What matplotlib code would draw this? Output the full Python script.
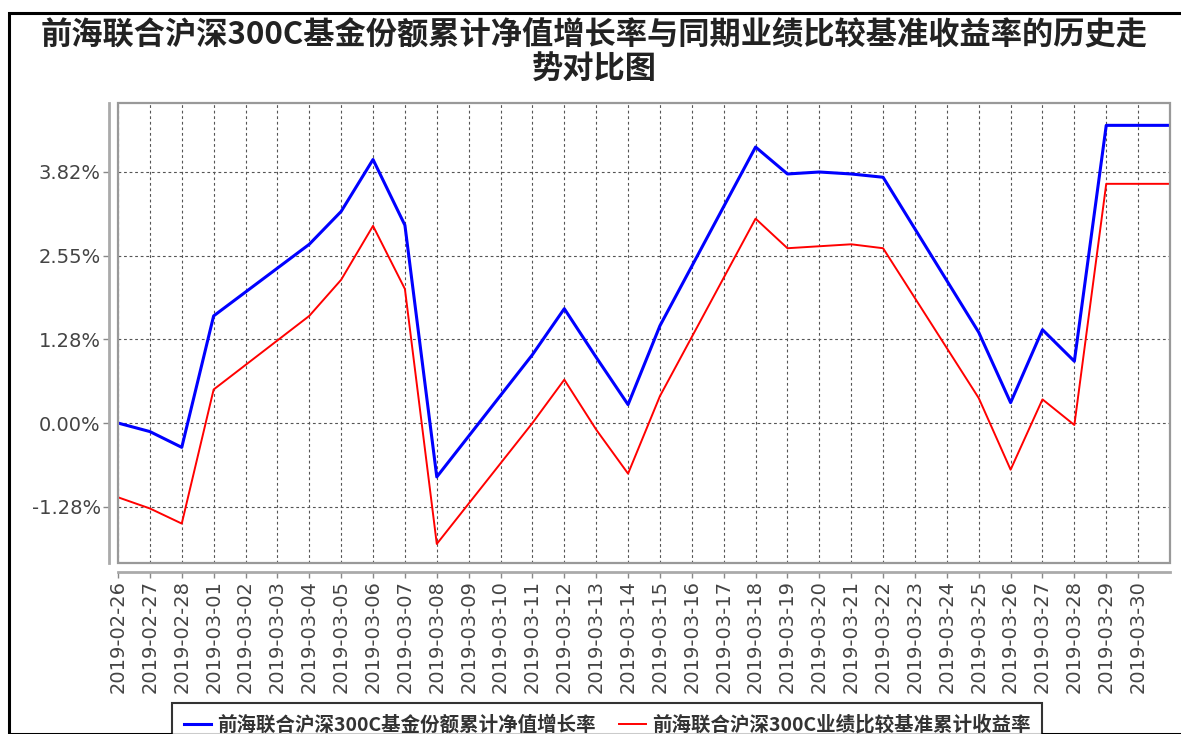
import matplotlib
matplotlib.use("Agg")
import matplotlib.pyplot as plt
from matplotlib.patches import Rectangle
import pandas as pd

# trading days (flat tail runs to month end)
dates = ['2019-02-26', '2019-02-27', '2019-02-28', '2019-03-01', '2019-03-04',
         '2019-03-05', '2019-03-06', '2019-03-07', '2019-03-08', '2019-03-11',
         '2019-03-12', '2019-03-13', '2019-03-14', '2019-03-15', '2019-03-18',
         '2019-03-19', '2019-03-20', '2019-03-21', '2019-03-22', '2019-03-25',
         '2019-03-26', '2019-03-27', '2019-03-28', '2019-03-29', '2019-03-31']

# fund cumulative NAV growth (%)
fund = [0.00, -0.13, -0.37, 1.63, 2.72, 3.22, 4.01, 3.01, -0.82, 1.04,
        1.74, 1.00, 0.28, 1.48, 4.20, 3.79, 3.82, 3.79, 3.74, 1.38,
        0.31, 1.42, 0.94, 4.53, 4.53]

# benchmark cumulative return (%)
bench = [-1.13, -1.30, -1.53, 0.51, 1.63, 2.18, 3.00, 2.04, -1.84, 0.00,
         0.66, -0.10, -0.77, 0.41, 3.11, 2.66, 2.69, 2.72, 2.66, 0.38,
         -0.71, 0.36, -0.03, 3.64, 3.64]

ytick_vals = [-1.2733, 0.0, 1.2733, 2.5467, 3.82]
ytick_labels = ['-1.28%', '0.00%', '1.28%', '2.55%', '3.82%']

title = '前海联合沪深300C基金份额累计净值增长率与同期业绩比较基准收益率的历史走\n势对比图'
fund_name = '前海联合沪深300C基金份额累计净值增长率'
bench_name = '前海联合沪深300C业绩比较基准累计收益率'

cjk = ['Noto Sans CJK SC', 'DejaVu Sans']

W, H = 1181, 734
fig = plt.figure(figsize=(W / 100, H / 100), dpi=100)
fig.patch.set_facecolor('white')

# black frame around the whole chart (runs off right and bottom)
fig.patches.append(Rectangle((9 / W, 0), 1.0, 1 - 13 / H, transform=fig.transFigure,
                             fill=False, ec='black', lw=2.2, figure=fig))

fig.text(0.503, 1 - 53 / H, title, ha='center', va='center', fontsize=22.5,
         family=cjk, fontweight='bold', color='#222222', linespacing=1.1)

ax = fig.add_axes([118 / W, 1 - 563 / H, (1170 - 118) / W, (563 - 103) / H])

# plot box plus offset axis lines (set first: set_position resets ticks)
for s in ['top', 'right']:
    ax.spines[s].set_visible(False)
for s in ['left', 'bottom']:
    ax.spines[s].set_position(('outward', 6.5))
    ax.spines[s].set_color('#aaaaaa')
    ax.spines[s].set_linewidth(2)
ax.add_patch(Rectangle((0, 0), 1, 1, transform=ax.transAxes, fill=False,
                       ec='#999999', lw=1.6, clip_on=False, zorder=3))

x = pd.to_datetime(dates)
l1, = ax.plot(x, fund, color='#0000ff', lw=2.2, label=fund_name)
l2, = ax.plot(x, bench, color='#ff0000', lw=1.4, label=bench_name)

ax.set_xlim(pd.Timestamp('2019-02-26'), pd.Timestamp('2019-03-31'))
ax.set_ylim(-2.13, 4.87)

ticks = pd.date_range('2019-02-26', '2019-03-30', freq='D')
ax.set_xticks(ticks)
ax.set_xticklabels([d.strftime('%Y-%m-%d') for d in ticks])
ax.set_yticks(ytick_vals)
ax.set_yticklabels(ytick_labels)
ax.tick_params(axis='both', length=4, width=1, color='#888888', pad=2,
               labelsize=14, labelcolor='#444444')
ax.tick_params(axis='x', labelrotation=90)

ax.grid(True, color='#555555', linestyle=(0, (2.5, 2.5)), lw=0.8)
ax.set_axisbelow(True)

leg = fig.legend(handles=[l1, l2], loc='upper left',
                 bbox_to_anchor=(172 / W, 1 - 703 / H), ncol=2,
                 prop={'family': cjk, 'size': 14, 'weight': 'bold'},
                 frameon=True, fancybox=False, handlelength=1.4,
                 handletextpad=0.3, columnspacing=1.2, borderpad=0.6,
                 borderaxespad=0)
leg.get_frame().set_edgecolor('black')
leg.get_frame().set_linewidth(1.5)
for t in leg.get_texts():
    t.set_color('#333333')

fig.savefig('out.png', dpi=100)
